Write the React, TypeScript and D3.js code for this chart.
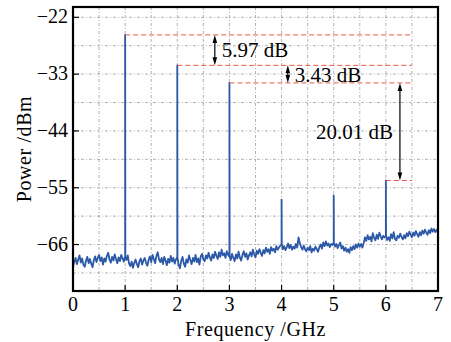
import * as d3 from "d3";

// noise floor, one reading every 0.025 GHz from 0 to 7 GHz (dBm)
const noiseStart = 0;
const noiseStep = 0.025;
const noise = [
  -70.2, -69.4, -68.6, -69.8, -68.9, -68.1, -69.5, -68.7, -69.9, -70.3, -69.1, -68.4, -69.6, -68.8, -69.7, -70.4, -69.0, -68.3, -69.4, -68.6,
  -68.0, -69.2, -68.5, -69.9, -68.7, -69.3, -68.2, -67.6, -68.9, -69.5, -68.4, -69.1, -67.9, -68.8, -69.6, -68.5, -69.2, -68.0, -68.7, -69.3,
  -68.4, -69.0, -68.1, -69.7, -70.2, -69.3, -70.5, -69.6, -68.9, -69.8, -70.4, -69.2, -68.7, -69.9, -69.1, -68.6, -69.5, -70.1, -69.0, -68.3,
  -69.4, -68.0, -68.8, -69.6, -68.2, -67.5, -68.9, -69.4, -68.6, -69.8, -68.4, -69.1, -70.0, -68.8, -69.5, -68.2, -69.3, -68.6, -69.7, -68.9,
  -68.5, -69.9, -70.6, -69.2, -68.4, -69.7, -70.3, -68.9, -69.5, -68.1, -69.0, -69.8, -68.6, -69.3, -68.0, -69.4, -68.7, -69.9, -68.3, -67.8,
  -68.9, -69.2, -68.1, -68.7, -67.6, -68.5, -69.1, -67.9, -68.6, -67.4, -68.2, -68.8, -67.5, -68.4, -67.0, -68.1, -67.7, -68.6, -67.3, -68.0,
  -68.3, -69.0, -67.8, -68.6, -69.2, -67.9, -68.7, -67.4, -68.5, -69.1, -68.0, -67.3, -68.4, -67.7, -68.9, -68.1, -67.5, -68.3, -67.0, -67.9,
  -68.5, -67.2, -67.8, -66.9, -67.6, -68.2, -67.1, -67.7, -66.6, -67.4, -66.9, -67.8, -66.5, -67.2, -66.8, -67.5, -66.3, -67.0, -66.6, -66.2,
  -66.0, -66.9, -66.3, -67.1, -66.5, -65.8, -66.7, -66.1, -67.0, -66.4, -66.8, -65.9, -66.6, -64.6, -65.7, -66.5, -67.0, -66.2, -66.9, -67.3,
  -66.6, -67.1, -66.3, -67.5, -66.8, -67.2, -66.4, -66.9, -67.4, -66.5, -66.0, -66.8, -65.6, -66.3, -65.4, -66.2, -65.8, -66.5, -65.9, -66.1,
  -65.7, -66.4, -65.9, -66.7, -66.1, -65.6, -66.8, -66.3, -67.2, -66.6, -67.4, -66.9, -67.6, -66.5, -67.1, -66.3, -66.9, -66.0, -66.6, -65.8,
  -66.4, -65.9, -66.6, -65.7, -64.6, -65.3, -64.2, -65.0, -64.5, -65.4, -63.8, -64.7, -65.2, -64.1, -64.9, -63.7, -64.4, -65.0, -64.3, -64.6,
  -64.4, -65.1, -64.6, -65.3, -64.0, -64.8, -63.6, -64.9, -65.2, -64.3, -64.7, -63.9, -64.5, -65.0, -64.2, -64.8, -63.8, -64.4, -63.5, -64.1,
  -64.6, -63.7, -64.3, -63.4, -64.0, -64.5, -63.6, -64.2, -63.3, -63.9, -63.1, -63.7, -64.1, -63.2, -63.8, -62.9, -63.5, -63.0, -63.6, -63.2, -63.0,
];

// harmonic peaks
const peakFreqs = [1, 2, 3, 4, 5, 6];
const peakPowers = [-25.4, -31.3, -34.7, -57.3, -56.5, -53.6];

// dB difference annotations: upper peak index, lower peak index, arrow x (GHz), label
const diffUpper = [0, 1, 2];
const diffLower = [1, 2, 5];
const diffX = [2.72, 4.12, 6.27];
const diffLabels = ["5.97 dB", "3.43 dB", "20.01 dB"];
const markerEnd = 6.5;

const xTicks = [0, 1, 2, 3, 4, 5, 6, 7];
const yTicks = [-22, -33, -44, -55, -66];
const xGrid = d3.range(1, 14).map((i) => i * 0.5);
const yGrid = d3.range(0, 10).map((i) => -22 - i * 5.5);

const W = 451;
const H = 342;
const m = { left: 73, right: 13, top: 7, bottom: 51 };
const font = "Liberation Serif";

export default function App() {
  const x = d3.scaleLinear().domain([0, 7]).range([m.left, W - m.right]);
  const y = d3.scaleLinear().domain([-75, -20]).range([H - m.bottom, m.top]);

  // merge the noise floor with the narrow peaks
  const pts: [number, number][] = noise.map((v, i) => [noiseStart + i * noiseStep, v]);
  peakFreqs.forEach((f, k) => {
    const i = Math.round((f - noiseStart) / noiseStep);
    const base = noise[i];
    pts.push([f - 0.004, base], [f, peakPowers[k]], [f + 0.004, base]);
  });
  pts.sort((a, b) => a[0] - b[0]);
  const line = d3.line<[number, number]>().x((d) => x(d[0])).y((d) => y(d[1]));

  const arrowHead = (px: number, py: number, dir: number) =>
    `M${px},${py} L${px - 2.3},${py + dir * 8} L${px + 2.3},${py + dir * 8} Z`;

  return (
    <svg width={W} height={H} style={{ position: "fixed", left: 0, top: 0, background: "#fff" }}>
      <defs>
        <clipPath id="plot">
          <rect x={m.left} y={m.top} width={W - m.left - m.right} height={H - m.top - m.bottom} />
        </clipPath>
      </defs>
      <g stroke="#a0a0a0" strokeWidth={0.8} strokeDasharray="3,2,1,2">
        {xGrid.map((g) => (
          <line key={"gx" + g} x1={x(g)} x2={x(g)} y1={m.top} y2={H - m.bottom} />
        ))}
        {yGrid.map((g) => (
          <line key={"gy" + g} x1={m.left} x2={W - m.right} y1={y(g)} y2={y(g)} />
        ))}
      </g>

      <path d={line(pts) ?? ""} fill="none" stroke="#2c58a8" strokeWidth={1.8} strokeLinejoin="round" clipPath="url(#plot)" />

      <g stroke="#e8584a" strokeWidth={1} strokeDasharray="5,3">
        {[0, 1, 2, 5].map((k) => (
          <line key={"r" + k} x1={x(peakFreqs[k])} x2={x(markerEnd)} y1={y(peakPowers[k])} y2={y(peakPowers[k])} />
        ))}
      </g>

      {diffLabels.map((lab, i) => {
        const ax = x(diffX[i]);
        const y1 = y(peakPowers[diffUpper[i]]);
        const y2 = y(peakPowers[diffLower[i]]);
        let tx = ax + 7;
        let ty = y1 + 22;
        if (i === 1) ty = y2 - 1;
        if (i === 2) {
          tx = ax - 84;
          ty = (y1 + y2) / 2 + 7;
        }
        return (
          <g key={"d" + i}>
            <line x1={ax} x2={ax} y1={y1 + 5} y2={y2 - 5} stroke="#000" strokeWidth={1.2} />
            <path d={arrowHead(ax, y1, 1)} fill="#000" />
            <path d={arrowHead(ax, y2, -1)} fill="#000" />
            <text x={tx} y={ty} fontFamily={font} fontSize={21}>
              {lab}
            </text>
          </g>
        );
      })}

      <g stroke="#000" strokeWidth={1.2}>
        {xTicks.map((t) => (
          <line key={"tx" + t} x1={x(t)} x2={x(t)} y1={H - m.bottom} y2={H - m.bottom - 6} />
        ))}
        {yTicks.map((t) => (
          <line key={"ty" + t} x1={m.left} x2={m.left + 6} y1={y(t)} y2={y(t)} />
        ))}
      </g>
      <rect x={m.left} y={m.top} width={W - m.left - m.right} height={H - m.top - m.bottom} fill="none" stroke="#000" strokeWidth={2.2} />

      <g fontFamily={font} fontSize={20} fill="#000">
        {xTicks.map((t) => (
          <text key={"lx" + t} x={x(t)} y={H - m.bottom + 20} textAnchor="middle">
            {t}
          </text>
        ))}
        {yTicks.map((t) => (
          <text key={"ly" + t} x={m.left - 5} y={y(t) + 6} textAnchor="end">
            {"\u2212" + Math.abs(t)}
          </text>
        ))}
        <text x={(m.left + W - m.right) / 2} y={H - 6} textAnchor="middle" letterSpacing={0.6}>
          Frequency /GHz
        </text>
        <text transform={`translate(31,${(m.top + H - m.bottom) / 2}) rotate(-90)`} textAnchor="middle" letterSpacing={0.6}>
          Power /dBm
        </text>
      </g>
    </svg>
  );
}
